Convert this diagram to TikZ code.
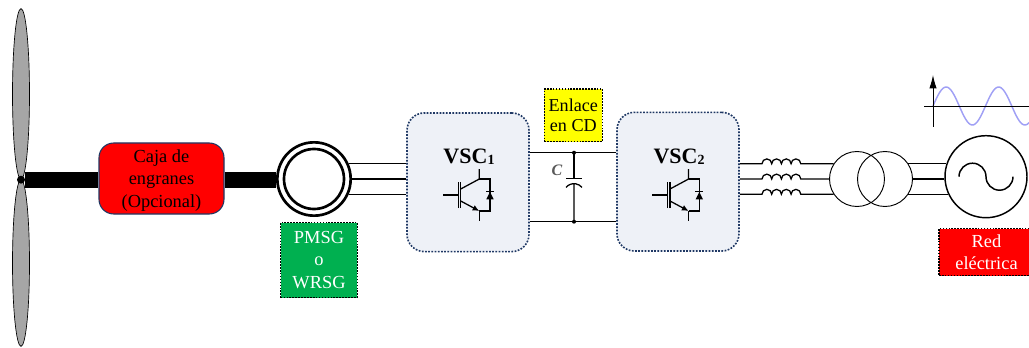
\documentclass[tikz,border=0pt]{standalone}
\usepackage{fontspec}
\setmainfont{Liberation Serif}
\usepackage{xcolor}
\usetikzlibrary{arrows.meta}
\usetikzlibrary{shapes.geometric}
\definecolor{bordeazul}{HTML}{1F3864}
\definecolor{fondovsc}{HTML}{EEF1F7}
\definecolor{rojobloque}{HTML}{FF0000}
\definecolor{verdebloque}{HTML}{00B050}
\definecolor{amarillobloque}{HTML}{FFFF00}
\definecolor{gris}{HTML}{A6A6A6}
\definecolor{azulonda}{HTML}{A0A0F5}
\tikzset{
  aspa/.style={ellipse,draw=black,fill=gris,line width=0.5pt,inner sep=0pt,minimum width=12.75pt},
  eje/.style={line width=12pt},
  fase/.style={line width=0.95pt},
  etiqueta/.style={rectangle,draw=black,dash pattern=on 1.2pt off 1pt,line width=1pt,inner sep=0pt,align=center,font=\fontsize{13.8}{16.8}\selectfont},
  bloquevsc/.style={rectangle,rounded corners=13pt,draw=bordeazul,fill=fondovsc,dash pattern=on 1.3pt off 1.1pt,line width=1.2pt,minimum width=91.5pt,minimum height=104pt,inner sep=0pt},
  titulovsc/.style={inner sep=0pt,font=\fontsize{16.5}{18}\selectfont\bfseries},
  trafo/.style={circle,draw=black,line width=0.7pt,minimum size=41.25pt,inner sep=0pt},
  igbt/.pic={
    \draw[fase] (-27,0) -- (-11.7,0);
    \draw[fase] (-11.7,-13) -- (-11.7,13);
    \draw[fase] (-9.3,-13) -- (-9.3,13);
    \draw[fase] (-9.3,6) -- (9.3,16) -- (9.3,26);
    \draw[fase] (9.3,16) -- (20,16) -- (20,-16) -- (9.3,-16);
    \draw[fase,-{Latex[length=5pt,width=4.5pt]}] (-9.3,-6) -- (9.3,-16);
    \draw[fase] (9.3,-16) -- (9.3,-26);
    \fill (16.3,-4.3) -- (23.7,-4.3) -- (20,3) -- cycle;
    \draw[fase] (16,3.2) -- (24,3.2);
  }
}
\newcommand{\vsctitulo}[1]{VSC\raisebox{-0.5pt}{\fontsize{10.5}{10.5}\selectfont #1}}
\begin{document}
\begin{tikzpicture}[x=0.75pt,y=0.75pt]
\useasboundingbox (0,0) rectangle (1029,347);
\node[aspa,minimum height=128pt] (aspasup) at (21,253) {};
\node[aspa,minimum height=125pt] (aspainf) at (21,84) {};
\node[circle,fill=black,inner sep=0pt,minimum size=6pt] (buje) at (21,167.3) {};
\node[rectangle,rounded corners=11pt,draw=bordeazul,fill=rojobloque,line width=0.8pt,minimum width=93.75pt,minimum height=53.25pt,inner sep=0pt,align=center,font=\fontsize{13.8}{16.8}\selectfont] (caja) at (161.5,168.5) {\rule{0pt}{12.5pt}Caja de\\engranes\\(Opcional)};
\node[circle,draw=black,fill=white,line width=2pt,minimum size=55pt,inner sep=0pt] (gen) at (314,168) {};
\node[circle,draw=black,line width=2pt,minimum size=45pt,inner sep=0pt] (genint) at (314,168) {};
\node[etiqueta,fill=verdebloque,text=white,minimum width=57.5pt,minimum height=56.25pt] (pmsg) at (319,87) {PMSG\\o\\WRSG};
\node[bloquevsc] (vsca) at (468,164.7) {};
\node[bloquevsc] (vscb) at (678,165.3) {};
\node[etiqueta,fill=amarillobloque,minimum width=43.5pt,minimum height=39.4pt,font=\fontsize{13.6}{15}\selectfont] (enlace) at (573.3,231.7) {Enlace\\en CD};
\node[titulovsc] (tituloa) at (469,190.5) {\vsctitulo{1}};
\node[titulovsc] (titulob) at (679,190.5) {\vsctitulo{2}};
\pic at (470,152) {igbt};
\pic at (679.3,152) {igbt};
\node[trafo] (trafoa) at (857,168) {};
\node[trafo] (trafob) at (885,168) {};
\node[circle,draw=black,line width=1.1pt,minimum size=61.5pt,inner sep=0pt] (red) at (986,170.3) {};
\node[etiqueta,fill=rojobloque,text=white,minimum width=71.25pt,minimum height=35.25pt,font=\fontsize{13.8}{16.5}\selectfont] (redtxt) at (986.5,95) {Red\\eléctrica};
\node[inner sep=0pt,text=black!65,font=\fontsize{12}{12}\selectfont\bfseries\itshape] (etqc) at (557,177) {C};
\coordinate (capsup) at (574,194.3);
\coordinate (capinf) at (574,125.3);
\coordinate (bobina) at (762,168);
\coordinate (ondaorg) at (933,241);
\draw[eje] (buje) -- (buje -| caja.west);
\draw[eje] (caja.east |- buje) -- (buje -| gen.west);
\foreach \a in {24,0,336} {
  \draw[fase] (gen.\a) -- (gen.\a -| vsca.west);
}
\draw[fase] (vsca.east |- capsup) -- (vscb.west |- capsup);
\draw[fase] (vsca.east |- capinf) -- (vscb.west |- capinf);
\draw[fase] (capsup) -- ++(0,-26) ++(-8,0) -- ++(16,0);
\draw[fase] (capinf) -- ++(0,38) ++(-8,-3.7) arc[start angle=140,end angle=40,radius=10.44];
\fill (capsup) circle (2);
\fill (capinf) circle (2);
\foreach \a in {147,180,213} {
  \draw[fase] (vscb.east |- trafoa.\a) -- (trafoa.\a -| bobina)
    arc[start angle=180,end angle=0,radius=4.85]
    arc[start angle=180,end angle=0,radius=4.85]
    arc[start angle=180,end angle=0,radius=4.85]
    arc[start angle=180,end angle=0,radius=4.85] -- (trafoa.\a);
}
\foreach \a/\b in {33/162,0/183,327/205} {
  \draw[fase] (trafob.\a) -- (trafob.\a -| red.\b);
}
\draw[line width=1.1pt] ([xshift=-20.25pt]red.center) arc[start angle=180,end angle=0,radius=13.5] arc[start angle=180,end angle=360,radius=13.5];
\draw[azulonda,line width=1.1pt,smooth] plot[domain=0:96,samples=60] ({933+\x},{241+19*sin(\x*6.857)});
\draw[line width=0.7pt] (924,241) -- (1029,241);
\draw[line width=0.7pt,-{Latex[length=10pt,width=5.5pt]}] (ondaorg) ++(0,-21) -- ++(0,52);
\end{tikzpicture}
\end{document}
